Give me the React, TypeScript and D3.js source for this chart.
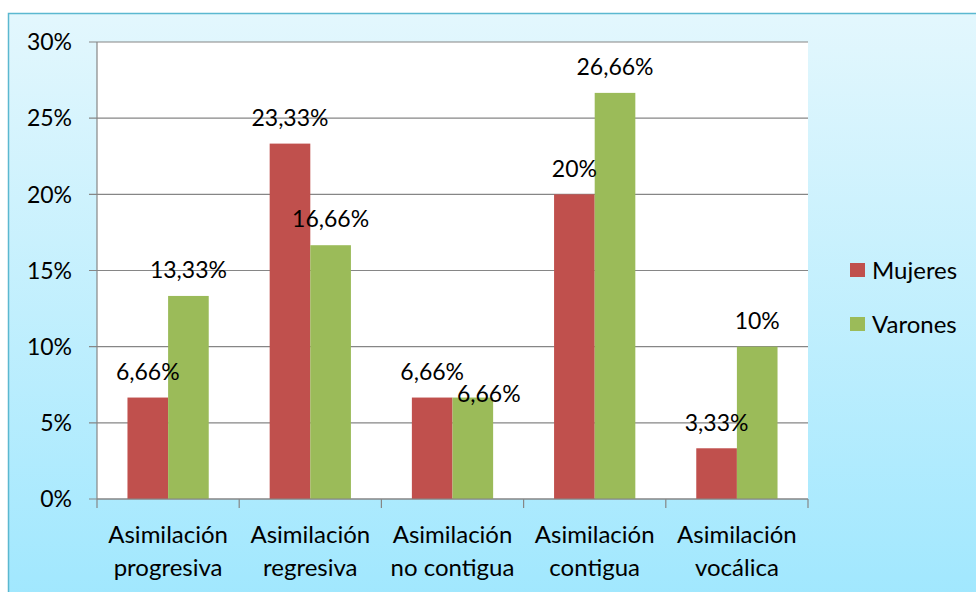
import React from 'react';
import * as d3 from 'd3';

// categories (two-line labels) and series values
const categories = [
  'Asimilación progresiva',
  'Asimilación regresiva',
  'Asimilación no contigua',
  'Asimilación contigua',
  'Asimilación vocálica',
];
const categoryLines = [
  ['Asimilación', 'progresiva'],
  ['Asimilación', 'regresiva'],
  ['Asimilación', 'no contigua'],
  ['Asimilación', 'contigua'],
  ['Asimilación', 'vocálica'],
];
const seriesNames = ['Mujeres', 'Varones'];
const mujeres = [6.66, 23.33, 6.66, 20, 3.33];
const varones = [13.33, 16.66, 6.66, 26.66, 10];
const mujeresLabels = ['6,66%', '23,33%', '6,66%', '20%', '3,33%'];
const varonesLabels = ['13,33%', '16,66%', '6,66%', '26,66%', '10%'];
const yTicks = [0, 5, 10, 15, 20, 25, 30];

const colors = ['#c0504d', '#9bbb59'];
const FONT = 'Lato, "Open Sans", sans-serif';

export default function App() {
  const width = 976;
  const height = 592;
  const plot = { left: 97, right: 808, top: 42, bottom: 499 };

  const x = d3.scaleBand<string>().domain(categories).range([plot.left, plot.right]).padding(0);
  const step = x.step();
  const barW = step / 3.5; // Excel-style gap width 150%
  const y = d3.scaleLinear().domain([0, 30]).range([plot.bottom, plot.top]);

  const series = [
    { name: seriesNames[0], values: mujeres, labels: mujeresLabels },
    { name: seriesNames[1], values: varones, labels: varonesLabels },
  ];

  const boundaries = categories.map((c) => x(c) as number).concat([plot.right]);

  return (
    <svg width={width} height={height} style={{ position: 'absolute', left: 0, top: 0 }} fontFamily={FONT}>
      <defs>
        <linearGradient id="bg" x1="0" y1="0" x2="0" y2="1">
          <stop offset="0%" stopColor="#e3f7fd" />
          <stop offset="100%" stopColor="#9fe7fe" />
        </linearGradient>
      </defs>
      <rect x={0} y={0} width={width} height={height} fill="#ffffff" />
      <rect x={8.5} y={13.5} width={1000} height={600} fill="url(#bg)" stroke="#5bb8d0" strokeWidth={1.5} />

      {/* plot area */}
      <rect x={plot.left} y={plot.top} width={plot.right - plot.left} height={plot.bottom - plot.top} fill="#ffffff" />

      {/* gridlines + y ticks */}
      {yTicks.map((t) => (
        <g key={t}>
          <line x1={plot.left - 8} x2={plot.right} y1={y(t)} y2={y(t)} stroke="#868686" strokeWidth={1.2} />
          <text x={72} y={y(t)} dy="0.36em" textAnchor="end" fontSize={23} fill="#000">
            {t + '%'}
          </text>
        </g>
      ))}
      <line x1={plot.left} x2={plot.left} y1={plot.top} y2={plot.bottom} stroke="#868686" strokeWidth={1.2} />

      {/* bars */}
      {series.map((s, si) =>
        categories.map((c, i) => {
          const bx = (x(c) as number) + (step - 2 * barW) / 2 + si * barW;
          return (
            <rect
              key={s.name + c}
              x={bx}
              y={y(s.values[i])}
              width={barW}
              height={plot.bottom - y(s.values[i])}
              fill={colors[si]}
            />
          );
        })
      )}

      {/* x axis */}
      <line x1={plot.left} x2={plot.right} y1={plot.bottom} y2={plot.bottom} stroke="#868686" strokeWidth={1.2} />
      {boundaries.map((b, i) => (
        <line key={i} x1={b} x2={b} y1={plot.bottom} y2={plot.bottom + 9} stroke="#868686" strokeWidth={1.2} />
      ))}

      {/* data labels */}
      {series.map((s, si) =>
        categories.map((c, i) => {
          const cx = (x(c) as number) + (step - 2 * barW) / 2 + si * barW + barW / 2;
          // the Varones label of "no contigua" was nudged by hand in the original
          const moved = si === 1 && i === 2;
          return (
            <text
              key={'l' + s.name + c}
              x={cx + (moved ? 16 : 0)}
              y={y(s.values[i]) - (moved ? 4 : 26)}
              dy="0.36em"
              textAnchor="middle"
              fontSize={23}
              fill="#000"
            >
              {s.labels[i]}
            </text>
          );
        })
      )}

      {/* category labels */}
      {categories.map((c, i) => (
        <text key={'c' + c} x={(x(c) as number) + step / 2} textAnchor="middle" fontSize={24} fill="#000">
          {categoryLines[i].map((ln, j) => (
            <tspan key={j} x={(x(c) as number) + step / 2} y={543 + j * 33}>
              {ln}
            </tspan>
          ))}
        </text>
      ))}

      {/* legend */}
      {seriesNames.map((n, i) => (
        <g key={n} transform={`translate(850, ${263 + i * 54})`}>
          <rect x={0} y={0} width={15} height={14} fill={colors[i]} />
          <text x={22} y={7} dy="0.36em" fontSize={24} fill="#000">
            {n}
          </text>
        </g>
      ))}
    </svg>
  );
}
